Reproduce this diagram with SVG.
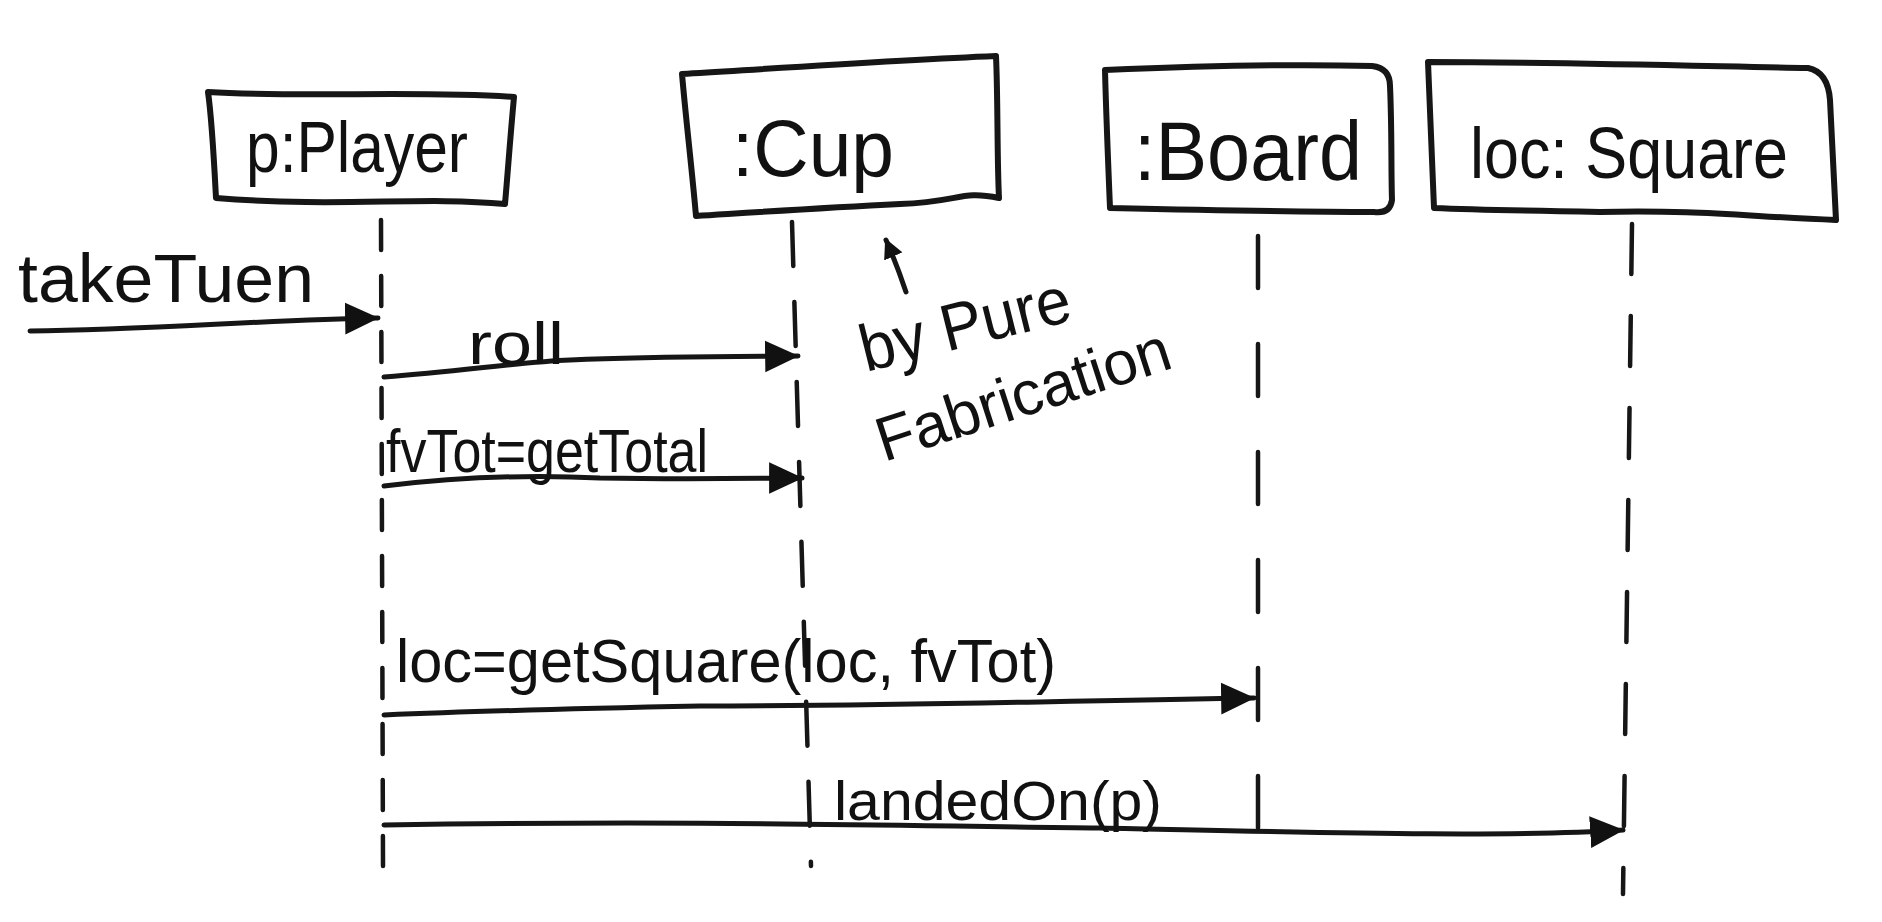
<svg xmlns="http://www.w3.org/2000/svg" width="1882" height="922" viewBox="0 0 1882 922">
<style>
.box{fill:none;stroke:#161616;stroke-width:6;stroke-linejoin:round;stroke-linecap:round}
.life{fill:none;stroke:#161616;stroke-width:4.5;stroke-linecap:round}
.msg{fill:none;stroke:#161616;stroke-width:5;stroke-linecap:round}
.t{font-family:"Liberation Sans",Arial,sans-serif;fill:#111}
</style>
<defs>
<marker id="ah" markerUnits="userSpaceOnUse" markerWidth="34" markerHeight="34" viewBox="0 0 30 28" refX="29" refY="14" orient="auto">
<path d="M0,0 L30,14 L0,28 Z" fill="#111"/>
</marker>
<marker id="ahs" markerUnits="userSpaceOnUse" markerWidth="20" markerHeight="20" viewBox="0 0 20 20" refX="18" refY="10" orient="auto">
<path d="M0,0 L20,10 L0,20 Z" fill="#111"/>
</marker>
</defs>
<rect width="1882" height="922" fill="#fff"/>

<g id="player">
<path class="box" d="M208,92 C300,98 420,90 514,97 C510,140 508,170 505,204 C420,196 340,208 216,198 C214,160 212,120 208,92 Z"/>
<text class="t" x="246" y="172" font-size="72" textLength="222" lengthAdjust="spacingAndGlyphs">p:Player</text>
</g>

<g id="cup">
<path class="box" d="M682,74 C780,68 900,60 996,56 C998,100 997,160 999,198 C960,190 960,202 900,204 C820,208 760,212 696,216 C692,170 686,120 682,74 Z"/>
<text class="t" x="732" y="176" font-size="80" textLength="162" lengthAdjust="spacingAndGlyphs">:Cup</text>
</g>

<g id="board">
<path class="box" d="M1105,70 C1200,66 1300,64 1372,66 Q1390,68 1390,86 C1392,130 1391,170 1392,200 Q1390,214 1374,212 C1290,212 1200,210 1110,208 C1108,160 1106,110 1105,70 Z"/>
<text class="t" x="1134" y="180" font-size="84" textLength="228" lengthAdjust="spacingAndGlyphs">:Board</text>
</g>

<g id="square">
<path class="box" d="M1428,62 C1550,62 1700,66 1808,68 Q1828,72 1830,100 C1832,140 1834,180 1836,220 C1740,216 1700,210 1600,212 C1540,211 1480,210 1434,208 C1432,160 1430,110 1428,62 Z"/>
<text class="t" x="1470" y="178" font-size="72" textLength="318" lengthAdjust="spacingAndGlyphs">loc: Square</text>
</g>

<g id="connectors">
<path class="life" stroke-dasharray="30 26" d="M381,220 L383,866"/>
<path class="life" stroke-dasharray="44 36" d="M792,222 L811,866"/>
<path class="life" stroke-dasharray="52 56" d="M1258,236 L1258,840"/>
<path class="life" stroke-dasharray="50 42" d="M1632,224 L1623,894"/>

<path class="msg" marker-end="url(#ah)" d="M30,331 C150,330 260,320 378,318"/>
<path class="msg" marker-end="url(#ah)" d="M384,377 C470,370 520,362 570,360 C660,356 730,357 798,356"/>
<path class="msg" marker-end="url(#ah)" d="M384,486 C450,478 520,474 600,478 C700,480 760,478 802,478"/>
<path class="msg" marker-end="url(#ah)" d="M384,715 C500,710 600,708 700,706 C900,706 1000,702 1254,698"/>
<path class="msg" marker-end="url(#ah)" d="M384,825 C700,820 900,826 1100,828 C1300,832 1500,838 1623,830"/>

<path class="msg" marker-end="url(#ahs)" d="M906,292 C900,274 894,258 886,240"/>
</g>

<g id="labels">
<text class="t" x="18" y="302" font-size="68" textLength="296" lengthAdjust="spacingAndGlyphs">takeTuen</text>
<text class="t" x="468" y="364" font-size="60" textLength="96" lengthAdjust="spacingAndGlyphs">roll</text>
<text class="t" x="386" y="472" font-size="62" textLength="322" lengthAdjust="spacingAndGlyphs">fvTot=getTotal</text>
<text class="t" x="396" y="682" font-size="62" textLength="660" lengthAdjust="spacingAndGlyphs">loc=getSquare(loc, fvTot)</text>
<text class="t" x="834" y="820" font-size="56" textLength="328" lengthAdjust="spacingAndGlyphs">landedOn(p)</text>
</g>

<g id="note">
<text class="t" font-size="66" textLength="215" lengthAdjust="spacingAndGlyphs" transform="translate(866,372) rotate(-14)">by Pure</text>
<text class="t" font-size="62" textLength="306" lengthAdjust="spacingAndGlyphs" transform="translate(884,462) rotate(-18)">Fabrication</text>
</g>
</svg>
